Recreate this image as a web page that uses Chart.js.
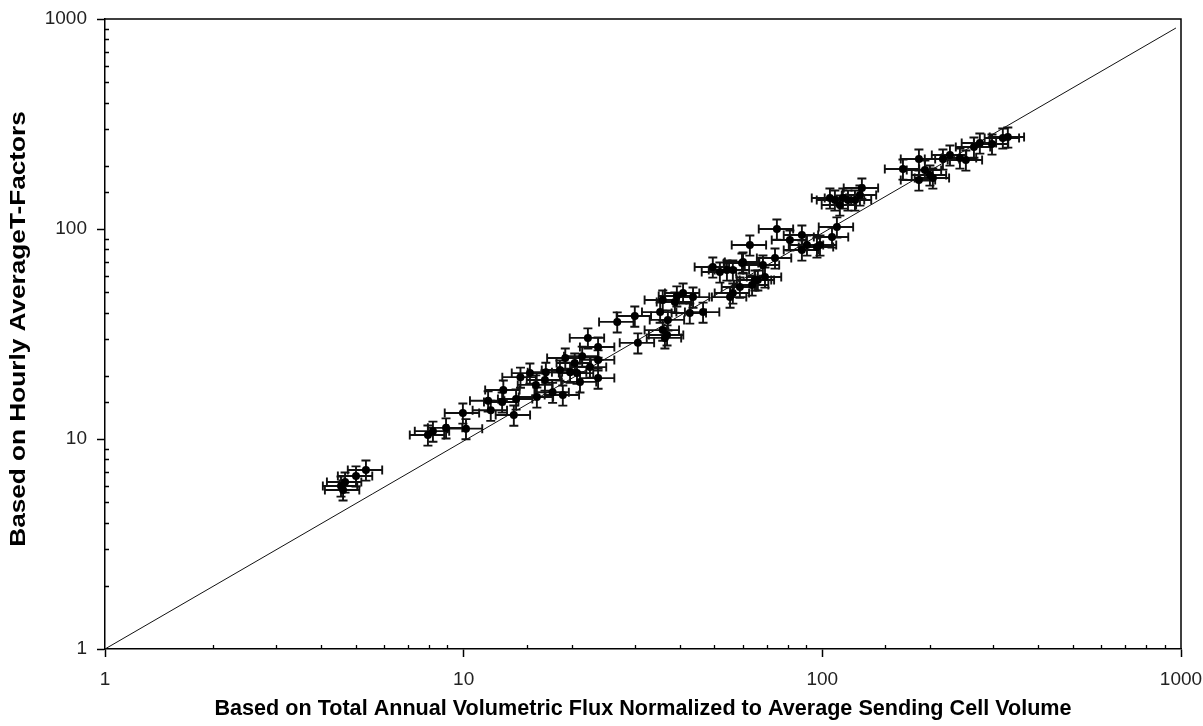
<!DOCTYPE html>
<html><head><meta charset="utf-8">
<script src="https://cdn.jsdelivr.net/npm/chart.js@4.4.1/dist/chart.umd.min.js"></script>
<style>html,body{margin:0;padding:0;background:#fff;overflow:hidden}
#wrap{position:relative;width:1203px;height:726px}</style>
</head><body><div id="wrap"><canvas id="c"></canvas></div>
<script>
// x: Based on Total Annual Volumetric Flux Normalized to Average Sending Cell Volume
const xValues = [
  4.55, 4.61, 4.67, 5.01, 5.34,
  7.95, 8.21, 8.93, 10.15, 9.95, 11.7, 11.9, 12.8, 12.9, 14.0, 13.8, 14.4, 15.3, 16.0, 16.95, 17.7, 18.9, 15.9, 16.85,
  19.2, 20.4, 21.4, 20.7, 21.1, 22.2, 23.7, 23.7, 23.7, 22.5, 19.8, 18.55,
  26.8, 30.0, 30.6, 35.3, 35.9, 36.9, 35.9, 38.8, 40.9, 43.6, 42.7, 46.5, 39.3, 37.1, 36.4,
  49.5, 54.2, 59.7, 62.8, 55.3, 58.9, 63.7, 66.1, 51.8, 56.3, 56.3,
  68.3, 69.2, 73.8, 74.7, 64.9, 87.7, 87.7, 90.6, 98.5, 106.4, 109.8, 96.6, 60.1, 81.2,
  108.4, 114.1, 117.9, 127.3, 128.9, 111.9, 123.3, 105.0,
  167.8, 185.9, 185.9, 203.3, 216.9, 226.9, 251.3, 264.7, 274.9, 297.2, 318.6, 329.0, 199.5, 241.9, 193.2
];
// y: Based on Hourly Average T-Factors
const yValues = [
  5.97, 5.72, 6.24, 6.67, 7.12,
  10.45, 10.9, 11.3, 11.2, 13.3, 15.2, 13.7, 15.0, 17.1, 15.5, 13.0, 19.7, 20.6, 15.85, 20.8, 16.7, 16.2, 18.1, 19.1,
  24.3, 23.0, 24.8, 20.6, 18.7, 30.3, 27.4, 23.8, 19.5, 22.0, 20.8, 21.3,
  36.1, 38.5, 28.7, 40.2, 45.9, 31.3, 33.0, 44.9, 49.6, 47.4, 39.8, 40.2, 48.0, 36.9, 30.3,
  65.9, 63.8, 68.9, 83.9, 47.4, 52.9, 54.1, 57.2, 62.4, 63.8, 49.6,
  67.4, 59.1, 72.8, 100, 57.2, 93.6, 79.4, 83.9, 83.9, 91.6, 102.3, 82.1, 69.6, 88.6,
  137.4, 140.5, 137.4, 145.2, 156.8, 130.1, 137.4, 140.5,
  193.1, 215.4, 171.1, 175.0, 215.4, 225.0, 213.2, 245.6, 256.8, 254.0, 271.3, 274.2, 180.7, 217.8, 190.9
];
const xErrorPct = 11;   // horizontal error bar half-width, % of value
const yErrorPct = 11;   // vertical error bar half-height, % of value
const lineX = [1, 968];
const lineY = [1, 906];
const axisMin = 1;
const axisMax = 1000;
const xTitle = 'Based on Total Annual Volumetric Flux Normalized to Average Sending Cell Volume';
const yTitle = 'Based on Hourly AverageT-Factors';

const FONT = '"Liberation Sans", Arial, sans-serif';
function isMajor(v){ const l = Math.log10(v); return Math.abs(l - Math.round(l)) < 1e-6; }

const points = xValues.map((x, i) => ({x: x, y: yValues[i]}));
const linePts = lineX.map((x, i) => ({x: x, y: lineY[i]}));

const errorBars = {
  id: 'errorBars',
  beforeDatasetsDraw(chart) {
    const xs = chart.scales.x, ys = chart.scales.y, a = chart.chartArea, ctx = chart.ctx;
    ctx.save();
    ctx.beginPath(); ctx.rect(a.left, a.top, a.right - a.left, a.bottom - a.top); ctx.clip();
    ctx.strokeStyle = '#111'; ctx.lineWidth = 1.9;
    const cap = 4.5;
    points.forEach(p => {
      const px = xs.getPixelForValue(p.x), py = ys.getPixelForValue(p.y);
      const x0 = xs.getPixelForValue(p.x * (1 - xErrorPct / 100));
      const x1 = xs.getPixelForValue(p.x * (1 + xErrorPct / 100));
      const y0 = ys.getPixelForValue(p.y * (1 - yErrorPct / 100));
      const y1 = ys.getPixelForValue(p.y * (1 + yErrorPct / 100));
      ctx.beginPath();
      ctx.moveTo(x0, py); ctx.lineTo(x1, py);
      ctx.moveTo(x0, py - cap); ctx.lineTo(x0, py + cap);
      ctx.moveTo(x1, py - cap); ctx.lineTo(x1, py + cap);
      ctx.moveTo(px, y0); ctx.lineTo(px, y1);
      ctx.moveTo(px - cap, y0); ctx.lineTo(px + cap, y0);
      ctx.moveTo(px - cap, y1); ctx.lineTo(px + cap, y1);
      ctx.stroke();
    });
    ctx.restore();
  }
};

const frame = {
  id: 'frame',
  afterDraw(chart) {
    const xs = chart.scales.x, ys = chart.scales.y, a = chart.chartArea, ctx = chart.ctx;
    ctx.save();
    ctx.strokeStyle = '#000'; ctx.lineWidth = 1.5;
    ctx.beginPath();
    ctx.moveTo(a.left, a.top); ctx.lineTo(a.right, a.top); ctx.lineTo(a.right, a.bottom);
    ctx.stroke();
    ctx.lineWidth = 1.3;
    ctx.beginPath();
    xs.ticks.forEach(t => {
      if (isMajor(t.value)) return;
      const px = Math.round(xs.getPixelForValue(t.value)) + 0.5;
      ctx.moveTo(px, a.bottom); ctx.lineTo(px, a.bottom - 4);
    });
    ys.ticks.forEach(t => {
      if (isMajor(t.value)) return;
      const py = Math.round(ys.getPixelForValue(t.value)) + 0.5;
      ctx.moveTo(a.left, py); ctx.lineTo(a.left + 4, py);
    });
    ctx.stroke();
    // vertical axis title (drawn slightly stretched along its length, as in the original)
    ctx.fillStyle = '#000';
    ctx.font = 'bold 22px ' + FONT;
    ctx.textAlign = 'center'; ctx.textBaseline = 'middle';
    ctx.translate(19, (a.top + a.bottom) / 2 - 5);
    ctx.rotate(-Math.PI / 2);
    ctx.scale(1.19, 1);
    ctx.fillText(yTitle, 0, 0);
    ctx.restore();
  }
};

function axisCfg(isX) {
  return {
    type: 'logarithmic',
    position: isX ? 'bottom' : 'left',
    min: axisMin, max: axisMax,
    afterFit(s) {
      if (isX) { s.height = 77; s.paddingLeft = 0; s.paddingRight = 0; }
      else { s.width = 105; s.paddingTop = 0; s.paddingBottom = 0; }
    },
    border: {display: true, color: '#000', width: 1.5},
    grid: {
      display: true, drawOnChartArea: false, drawTicks: true, tickLength: 8, tickWidth: 1.5,
      tickColor: c => (c.tick && isMajor(c.tick.value)) ? '#000' : 'rgba(0,0,0,0)'
    },
    ticks: {
      autoSkip: false, maxRotation: 0, minRotation: 0,
      padding: isX ? 11 : 10,
      color: '#222',
      font: {family: FONT, size: 19},
      callback: v => isMajor(v) ? String(Math.round(v)) : ''
    },
    title: isX ? {
      display: true,
      text: xTitle,
      color: '#000',
      font: {family: FONT, size: 21.6, weight: 'bold'},
      padding: {top: 0, bottom: 4}
    } : {display: false, text: yTitle}
  };
}

new Chart(document.getElementById('c'), {
  type: 'scatter',
  data: {
    datasets: [
      {data: points, pointRadius: 4, pointBackgroundColor: '#000', pointBorderWidth: 0, showLine: false},
      {data: linePts, showLine: true, borderColor: '#111', borderWidth: 1, pointRadius: 0, fill: false}
    ]
  },
  options: {
    responsive: true, maintainAspectRatio: false, animation: false,
    layout: {padding: {left: 0, top: 19, right: 22, bottom: 0}},
    plugins: {legend: {display: false}, tooltip: {enabled: false}},
    scales: {x: axisCfg(true), y: axisCfg(false)}
  },
  plugins: [errorBars, frame]
});
</script>
</body></html>
